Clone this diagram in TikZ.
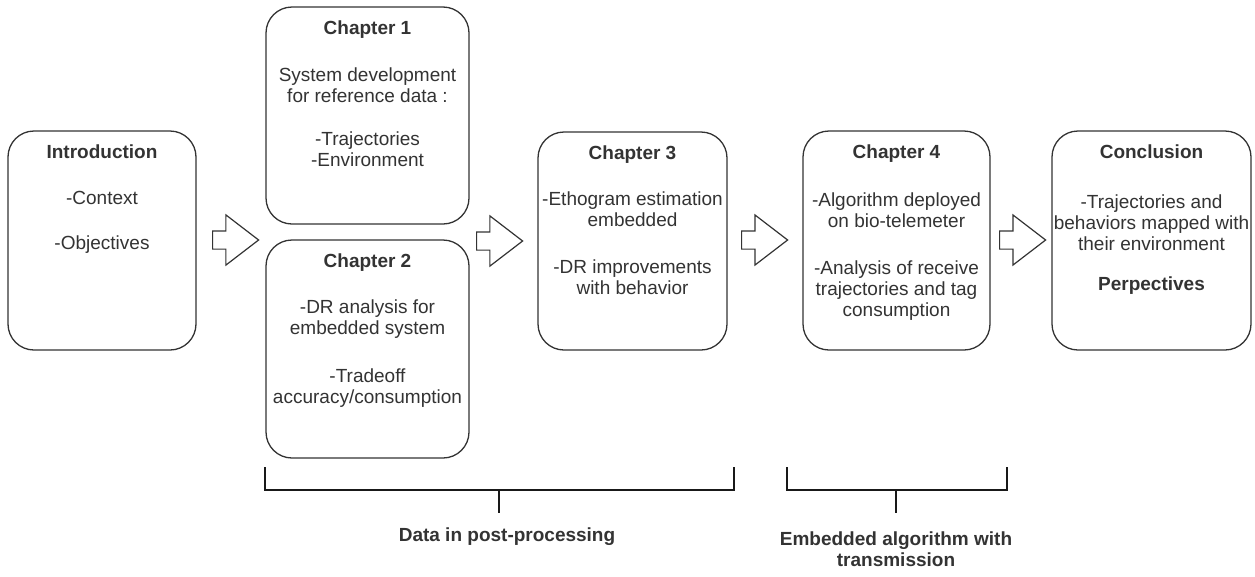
\documentclass[tikz,border=0pt]{standalone}
\usepackage{fontspec}
\setmainfont{Liberation Sans}
\usepackage{tikz}
\usetikzlibrary{shapes.arrows,positioning,calc}
\definecolor{inkgray}{rgb}{0.2, 0.2, 0.2}
\tikzset{
	chapbox/.style={
		rectangle,
		rounded corners=26pt,
		draw=inkgray, line width=1.3pt,
		fill=white},
	chaptext/.style={
		anchor=north,
		inner sep=0pt,
		align=center,
		text=inkgray,
		font=\fontsize{19}{21}\selectfont},
	blockarrow/.style={
		single arrow,
		anchor=west,
		draw=inkgray, line width=1.2pt,
		fill=white,
		inner xsep=0pt, inner ysep=8.5pt,
		minimum height=46pt,
		single arrow head extend=16pt,
		single arrow tip angle=75},
	bracket/.style={draw=black!90, line width=2.6pt},
	bracktext/.style={
		inner sep=0pt,
		align=center,
		text=inkgray,
		font=\fontsize{19}{21}\selectfont\bfseries},
}

\begin{document}
\begin{tikzpicture}[x=1pt,y=-1pt]
\useasboundingbox (0,0) rectangle (1255,576);

% chapter boxes
\node[chapbox, minimum width=188pt, minimum height=219pt] (intro) at (102,240.5) {};
\node[chapbox, minimum width=203pt, minimum height=217pt] (chapone) at (367.5,115.5) {};
\node[chapbox, minimum width=203pt, minimum height=218pt] (chaptwo) at (367.5,349) {};
\node[chapbox, minimum width=189pt, minimum height=218pt] (chapthree) at (632.5,241) {};
\node[chapbox, minimum width=187pt, minimum height=219pt] (chapfour) at (896.5,240.5) {};
\node[chapbox, minimum width=199pt, minimum height=219pt] (concl) at (1151.5,240.5) {};

% texts
\node[chaptext] (introtxt) at ([yshift=-14pt]intro.north)
	{\textbf{Introduction}\\[25pt] -Context\\[24pt] -Objectives};
\node[chaptext] (chaponetxt) at ([yshift=-14pt]chapone.north)
	{\textbf{Chapter 1}\\[26pt] System development\\ for reference data :\\[22pt]
	 -Trajectories\\ -Environment};
\node[chaptext] (chaptwotxt) at ([yshift=-14pt]chaptwo.north)
	{\textbf{Chapter 2}\\[25pt] -DR analysis for\\ embedded system\\[27pt]
	 -Tradeoff\\ accuracy/consumption};
\node[chaptext] (chapthreetxt) at ([yshift=-14pt]chapthree.north)
	{\textbf{Chapter 3}\\[25pt] -Ethogram estimation\\ embedded\\[26pt]
	 -DR improvements\\ with behavior};
\node[chaptext] (chapfourtxt) at ([yshift=-14pt]chapfour.north)
	{\textbf{Chapter 4}\\[27pt] -Algorithm deployed\\ on bio-telemeter\\[26pt]
	 -Analysis of receive\\ trajectories and tag\\ consumption};
\node[chaptext] (concltxt) at ([yshift=-14pt]concl.north)
	{\textbf{Conclusion}\\[29pt] -Trajectories and\\ behaviors mapped with\\ their environment\\[19pt]
	 \textbf{Perpectives}};

% arrows between chapters
\node[blockarrow] (arrone) at (212,240) {};
\node[blockarrow] (arrtwo) at (476,241) {};
\node[blockarrow] (arrthree) at (741,240) {};
\node[blockarrow] (arrfour) at (999,240) {};

% brackets
\draw[bracket] (265,467) -- (265,490) -- (734,490) -- (734,467);
\draw[bracket] (499,490) -- (499,513);
\node[bracktext] (posttxt) at (507,537) {Data in post-processing};

\draw[bracket] (787,467) -- (787,490) -- (1007,490) -- (1007,467);
\draw[bracket] (896,490) -- (896,513);
\node[bracktext, anchor=north] (embtxt) at (896,532)
	{Embedded algorithm with\\ transmission};
\end{tikzpicture}
\end{document}
